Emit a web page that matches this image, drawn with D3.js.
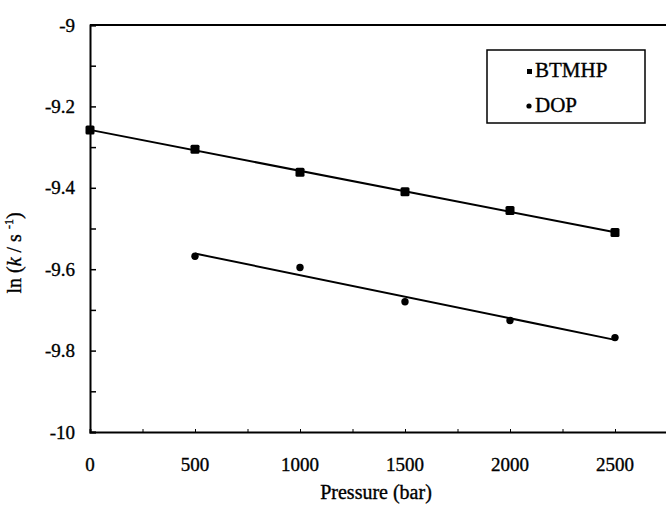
<!DOCTYPE html>
<html><head><meta charset="utf-8">
<script src="https://cdn.jsdelivr.net/npm/d3@7"></script>
<style>body{margin:0;background:#fff}svg{display:block}</style>
</head><body>
<script>
const pressures = [0, 500, 1000, 1500, 2000, 2500];
const btmhpValues = [-9.258, -9.305, -9.362, -9.410, -9.456, -9.510];
const dopPressures = [500, 1000, 1500, 2000, 2500];
const dopValues = [-9.568, -9.596, -9.680, -9.726, -9.768];
const xTicks = [0, 500, 1000, 1500, 2000, 2500];
const yTicks = [-9, -9.2, -9.4, -9.6, -9.8, -10];
const seriesNames = ["BTMHP", "DOP"];

const FONT = "'Liberation Serif', 'DejaVu Serif', serif";
const W = 666, H = 508;
const svg = d3.select("body").append("svg").attr("width", W).attr("height", H)
  .attr("font-family", FONT);
const x = d3.scaleLinear().domain([0, 2800]).range([90, 678]);
const y = d3.scaleLinear().domain([-10, -9]).range([432, 25]);

function fit(xs, ys) {
  const mx = d3.mean(xs), my = d3.mean(ys);
  const s = d3.sum(xs, (v, i) => (v - mx) * (ys[i] - my)) / d3.sum(xs, v => (v - mx) ** 2);
  return v => my + s * (v - mx);
}
function txt(sel) { return sel.attr("font-family", FONT).attr("fill", "#000").attr("stroke", "#000").attr("stroke-width", 0.35); }

// frame: top border
svg.append("line").attr("x1", x(0)).attr("x2", W).attr("y1", y(-9)).attr("y2", y(-9))
  .attr("stroke", "#000").attr("stroke-width", 2);

// y axis
const yAxis = d3.axisRight(y).tickValues(d3.range(-10, -8.95, 0.1)).tickSize(6).tickFormat("");
const gy = svg.append("g").attr("transform", `translate(${x(0)},0)`).call(yAxis);
gy.select(".domain").attr("stroke-width", 2);
gy.selectAll(".tick line").attr("stroke-width", 1.5);
svg.append("g").selectAll("text").data(yTicks).join("text")
  .attr("x", 75).attr("y", d => y(d)).attr("dy", "0.35em").attr("text-anchor", "end")
  .attr("font-size", 19).call(txt).text(d => String(d));

// x axis
const xAxis = d3.axisTop(x).tickValues(d3.range(0, 2751, 250)).tickSize(3).tickFormat("");
const gx = svg.append("g").attr("transform", `translate(0,${y(-10)})`).call(xAxis);
gx.select(".domain").attr("stroke-width", 2);
svg.append("g").selectAll("text").data(xTicks).join("text")
  .attr("x", d => x(d)).attr("y", 471).attr("text-anchor", "middle")
  .attr("font-size", 19).call(txt).text(d => String(d));

// axis titles
svg.append("text").attr("x", 376).attr("y", 499).attr("text-anchor", "middle")
  .attr("font-size", 20).call(txt).text("Pressure (bar)");
const yt = svg.append("text").attr("transform", "translate(21,253) rotate(-90)")
  .attr("text-anchor", "middle").attr("font-size", 20).call(txt);
yt.append("tspan").text("ln (");
yt.append("tspan").attr("font-style", "italic").text("k");
yt.append("tspan").text(" / s ");
yt.append("tspan").attr("font-size", 12).attr("dy", -8).text("-1");
yt.append("tspan").attr("dy", 8).text(")");

// fit lines
const fb = fit(pressures, btmhpValues);
const fd = fit(dopPressures, dopValues);
const line = d3.line().x(d => x(d[0])).y(d => y(d[1]));
svg.append("path").attr("d", line([[0, fb(0)], [2500, fb(2500)]]))
  .attr("stroke", "#000").attr("stroke-width", 2).attr("fill", "none");
svg.append("path").attr("d", line([[500, fd(500)], [2500, fd(2500)]]))
  .attr("stroke", "#000").attr("stroke-width", 2).attr("fill", "none");

// markers
svg.append("g").selectAll("rect").data(pressures).join("rect")
  .attr("x", (d) => x(d) - 4.5).attr("y", (d, i) => y(btmhpValues[i]) - 4.5)
  .attr("width", 9).attr("height", 9).attr("rx", 1.5).attr("fill", "#000");
svg.append("g").selectAll("circle").data(dopPressures).join("circle")
  .attr("cx", d => x(d)).attr("cy", (d, i) => y(dopValues[i])).attr("r", 3.7).attr("fill", "#000");

// legend
svg.append("rect").attr("x", 487).attr("y", 50).attr("width", 158).attr("height", 73)
  .attr("fill", "#fff").attr("stroke", "#000").attr("stroke-width", 1.5);
svg.append("rect").attr("x", 527).attr("y", 69).attr("width", 5).attr("height", 5).attr("fill", "#000");
svg.append("circle").attr("cx", 529).attr("cy", 106).attr("r", 2.6).attr("fill", "#000");
svg.append("g").selectAll("text").data(seriesNames).join("text")
  .attr("x", 535).attr("y", (d, i) => i === 0 ? 77 : 112)
  .attr("font-size", 21).call(txt).text(d => d);
</script>
</body></html>
